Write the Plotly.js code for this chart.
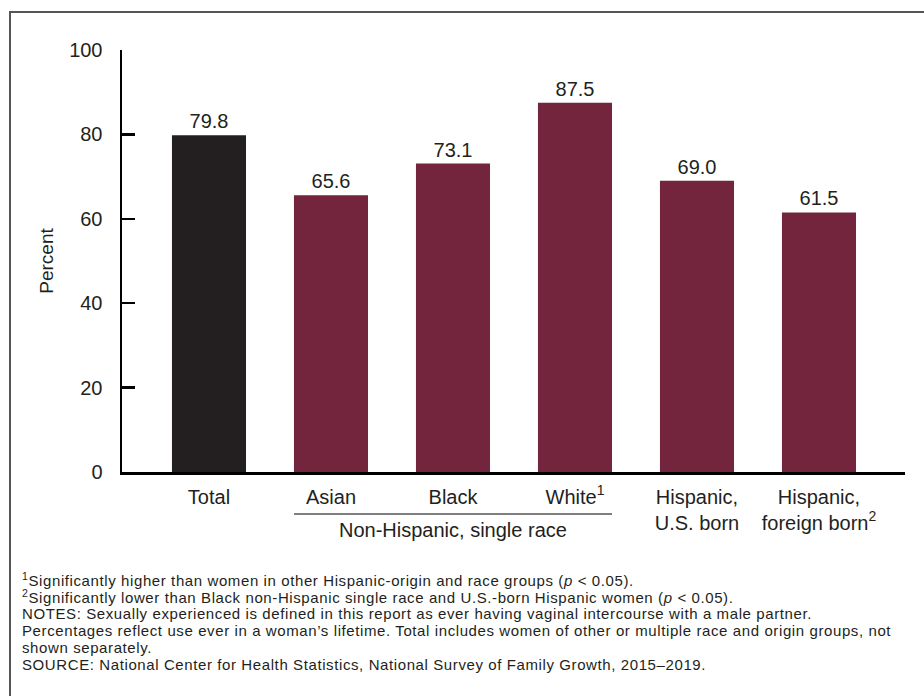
<!DOCTYPE html>
<html>
<head>
<meta charset="utf-8">
<script src="https://cdn.plot.ly/plotly-3.0.1.min.js"></script>
<style>
html,body{margin:0;padding:0;background:#fff;}
#chart{width:924px;height:696px;}
#chart g.annotation:not([data-index="0"]) text { letter-spacing: 0.6px; }
</style>
</head>
<body>
<div id="chart"></div>
<script>
// ---- data ----
const categories = ["Total", "Asian", "Black", "White", "Hispanic, U.S. born", "Hispanic, foreign born"];
const tickLabels = ["Total", "Asian", "Black", "White<sup>1</sup>", "Hispanic,<br>U.S. born", "Hispanic,<br>foreign born<sup>2</sup>"];
const percents = [79.8, 65.6, 73.1, 87.5, 69.0, 61.5];
const groupLabel = "Non-Hispanic, single race";
const yTicks = [0, 20, 40, 60, 80, 100];
const footnotes = [
  "<sup>1</sup>Significantly higher than women in other Hispanic-origin and race groups (<i>p</i> < 0.05).",
  "<sup>2</sup>Significantly lower than Black non-Hispanic single race and U.S.-born Hispanic women (<i>p</i> < 0.05).",
  "NOTES: Sexually experienced is defined in this report as ever having vaginal intercourse with a male partner.",
  "Percentages reflect use ever in a woman’s lifetime. Total includes women of other or multiple race and origin groups, not",
  "shown separately.",
  "SOURCE: National Center for Health Statistics, National Survey of Family Growth, 2015–2019."
];

const FONT = "Liberation Sans, Arial, sans-serif";
const TXT = "#231f20";
const xIdx = categories.map((c, i) => i);
const barColors = categories.map((c, i) => i === 0 ? "#231f20" : "#72253d");

// pixel helpers for paper placement of notes (plot area: y 50..472)
const PLOT_TOP = 50, PLOT_BOTTOM = 472, PLOT_LEFT = 122, PLOT_W = 783;
const pyToPaper = py => (PLOT_BOTTOM - py) / (PLOT_BOTTOM - PLOT_TOP);
const pxToPaper = px => (px - PLOT_LEFT) / PLOT_W;

const trace = {
  type: "bar",
  x: xIdx,
  y: percents,
  width: 0.607,
  marker: {color: barColors, line: {width: 0}},
  texttemplate: "%{y:.1f}",
  textposition: "outside",
  textfont: {family: FONT, size: 20, color: TXT},
  cliponaxis: false,
  hoverinfo: "skip"
};

const noteAnnotations = footnotes.map((t, i) => ({
  xref: "paper", yref: "paper", x: pxToPaper(20), y: pyToPaper(579 + 17 * i),
  text: t, showarrow: false, xanchor: "left", yanchor: "middle", align: "left",
  font: {family: FONT, size: 15, color: TXT}
}));

const layout = {
  width: 924,
  height: 696,
  margin: {l: 122, r: 19, t: 50, b: 224},
  paper_bgcolor: "#fff",
  plot_bgcolor: "#fff",
  showlegend: false,
  font: {family: FONT, color: TXT, size: 20},
  xaxis: {
    range: [-0.713, 5.705],
    tickvals: xIdx,
    ticktext: tickLabels,
    ticks: "",
    showline: true,
    linecolor: "#000",
    linewidth: 2.5,
    showgrid: false,
    zeroline: false,
    ticklabelstandoff: 5,
    tickfont: {family: FONT, size: 20, color: TXT},
    fixedrange: true
  },
  yaxis: {
    range: [0, 100],
    tickvals: yTicks,
    ticks: "inside",
    ticklen: 13,
    tickwidth: 2.5,
    tickcolor: "#000",
    showline: true,
    linecolor: "#000",
    linewidth: 2.5,
    showgrid: false,
    zeroline: false,
    ticklabelstandoff: 13,
    tickfont: {family: FONT, size: 20, color: TXT},
    title: {text: "Percent", font: {family: FONT, size: 19, color: TXT}, standoff: 11},
    fixedrange: true
  },
  shapes: [
    // group underline under non-Hispanic categories
    {type: "line", xref: "x", yref: "paper", x0: 1 - 0.303, x1: 3 + 0.303, y0: pyToPaper(514), y1: pyToPaper(514),
     line: {color: "#000", width: 1.2}},
    // outer frame
    {type: "rect", xref: "paper", yref: "paper", x0: pxToPaper(10), x1: 1.5, y0: pyToPaper(12), y1: -1,
     line: {color: "#555", width: 2}, layer: "below"}
  ],
  annotations: [
    {xref: "x", yref: "paper", x: 2, y: pyToPaper(530), text: groupLabel, showarrow: false,
     xanchor: "center", yanchor: "middle", font: {family: FONT, size: 20, color: TXT}}
  ].concat(noteAnnotations)
};

Plotly.newPlot("chart", [trace], layout, {displayModeBar: false, staticPlot: true});
</script>
</body>
</html>
